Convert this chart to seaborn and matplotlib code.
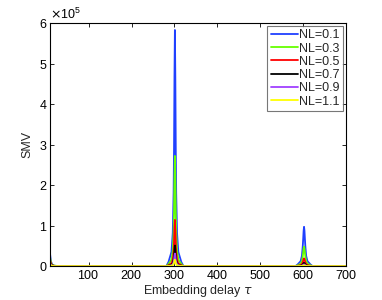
import numpy as np
import pandas as pd
import matplotlib
matplotlib.use("Agg")
import matplotlib.pyplot as plt
import seaborn as sns

# embedding delay grid (start region, peak near 300, peak near 600, end)
tau = [10, 12, 15, 20, 30,
       281, 286, 293, 296, 298, 299, 300, 301, 302, 303, 304, 306, 309, 316, 321,
       582, 587, 594, 597, 599, 600, 601, 602, 603, 604, 605, 607, 610, 617, 622,
       700]

labels = ["NL=0.1", "NL=0.3", "NL=0.5", "NL=0.7", "NL=0.9", "NL=1.1"]

# SMV values in units of 1e5
smv_01 = [0.30, 0.12, 0.04, 0.01, 0,
          0, 0.10, 0.35, 0.82, 1.81, 2.92, 4.66, 5.83, 4.66, 2.92, 1.81, 0.82, 0.35, 0.10, 0,
          0, 0.04, 0.12, 0.25, 0.49, 0.67, 0.87, 0.97, 0.87, 0.67, 0.49, 0.25, 0.12, 0.04, 0,
          0]
smv_03 = [0.22, 0.09, 0.03, 0.01, 0,
          0, 0.05, 0.16, 0.38, 0.84, 1.36, 2.18, 2.72, 2.18, 1.36, 0.84, 0.38, 0.16, 0.05, 0,
          0, 0.018, 0.06, 0.12, 0.24, 0.33, 0.43, 0.48, 0.43, 0.33, 0.24, 0.12, 0.06, 0.018, 0,
          0]
smv_05 = [0.15, 0.06, 0.02, 0.005, 0,
          0, 0.02, 0.07, 0.16, 0.35, 0.57, 0.91, 1.14, 0.91, 0.57, 0.35, 0.16, 0.07, 0.02, 0,
          0, 0.007, 0.023, 0.05, 0.095, 0.13, 0.17, 0.19, 0.17, 0.13, 0.095, 0.05, 0.023, 0.007, 0,
          0]
smv_07 = [0.10, 0.04, 0.015, 0, 0,
          0, 0.009, 0.03, 0.07, 0.16, 0.26, 0.41, 0.51, 0.41, 0.26, 0.16, 0.07, 0.03, 0.009, 0,
          0, 0.003, 0.01, 0.021, 0.04, 0.055, 0.072, 0.08, 0.072, 0.055, 0.04, 0.021, 0.01, 0.003, 0,
          0]
smv_09 = [0.07, 0.03, 0.01, 0, 0,
          0, 0.005, 0.019, 0.04, 0.10, 0.16, 0.25, 0.31, 0.25, 0.16, 0.10, 0.04, 0.019, 0.005, 0,
          0, 0.0015, 0.005, 0.01, 0.02, 0.028, 0.036, 0.04, 0.036, 0.028, 0.02, 0.01, 0.005, 0.0015, 0,
          0]
smv_11 = [0.05, 0.02, 0.005, 0, 0,
          0, 0.003, 0.01, 0.022, 0.05, 0.08, 0.13, 0.16, 0.13, 0.08, 0.05, 0.022, 0.01, 0.003, 0,
          0, 0.0008, 0.0024, 0.005, 0.01, 0.014, 0.018, 0.02, 0.018, 0.014, 0.01, 0.005, 0.0024, 0.0008, 0,
          0]

colors = ["#2040ff", "#66ff00", "#ff0000", "#000000", "#a040ff", "#ffff00"]

# %%
series = [smv_01, smv_03, smv_05, smv_07, smv_09, smv_11]
df = pd.concat([
    pd.DataFrame({"tau": tau, "smv": np.array(v) * 1e5, "NL": lab})
    for lab, v in zip(labels, series)
])

sns.set_style("ticks")
plt.rcParams["font.family"] = ["Liberation Sans", "DejaVu Sans"]
plt.rcParams["font.size"] = 9
plt.rcParams["axes.formatter.use_mathtext"] = True

fig = plt.figure(figsize=(3.82, 3.0), dpi=100)
ax = fig.add_axes([0.131, 0.113, 0.775, 0.81])
sns.lineplot(data=df, x="tau", y="smv", hue="NL", palette=colors,
             linewidth=1.3, ax=ax, estimator=None)

ax.set_xlim(10, 700)
ax.set_ylim(0, 6e5)
ax.set_xticks([100, 200, 300, 400, 500, 600, 700])
ax.set_yticks([0, 1e5, 2e5, 3e5, 4e5, 5e5, 6e5])
ax.ticklabel_format(axis="y", style="sci", scilimits=(0, 0))
ax.tick_params(direction="in", top=True, right=True, length=3, width=0.6,
               labelsize=9, colors="black", pad=2)
for s in ax.spines.values():
    s.set_linewidth(0.8)
    s.set_color("black")
ax.set_xlabel(r"Embedding delay $\tau$", fontsize=9, labelpad=1)
ax.set_ylabel("SMV", fontsize=9, labelpad=4)

leg = ax.legend(loc="upper right", frameon=True, fancybox=False,
                fontsize=9, handlelength=2.2, borderpad=0.25,
                labelspacing=0.1, handletextpad=0.1,
                borderaxespad=0.25)
leg.get_frame().set_edgecolor("#555555")
leg.get_frame().set_linewidth(0.8)

fig.savefig("out.png", dpi=100)
